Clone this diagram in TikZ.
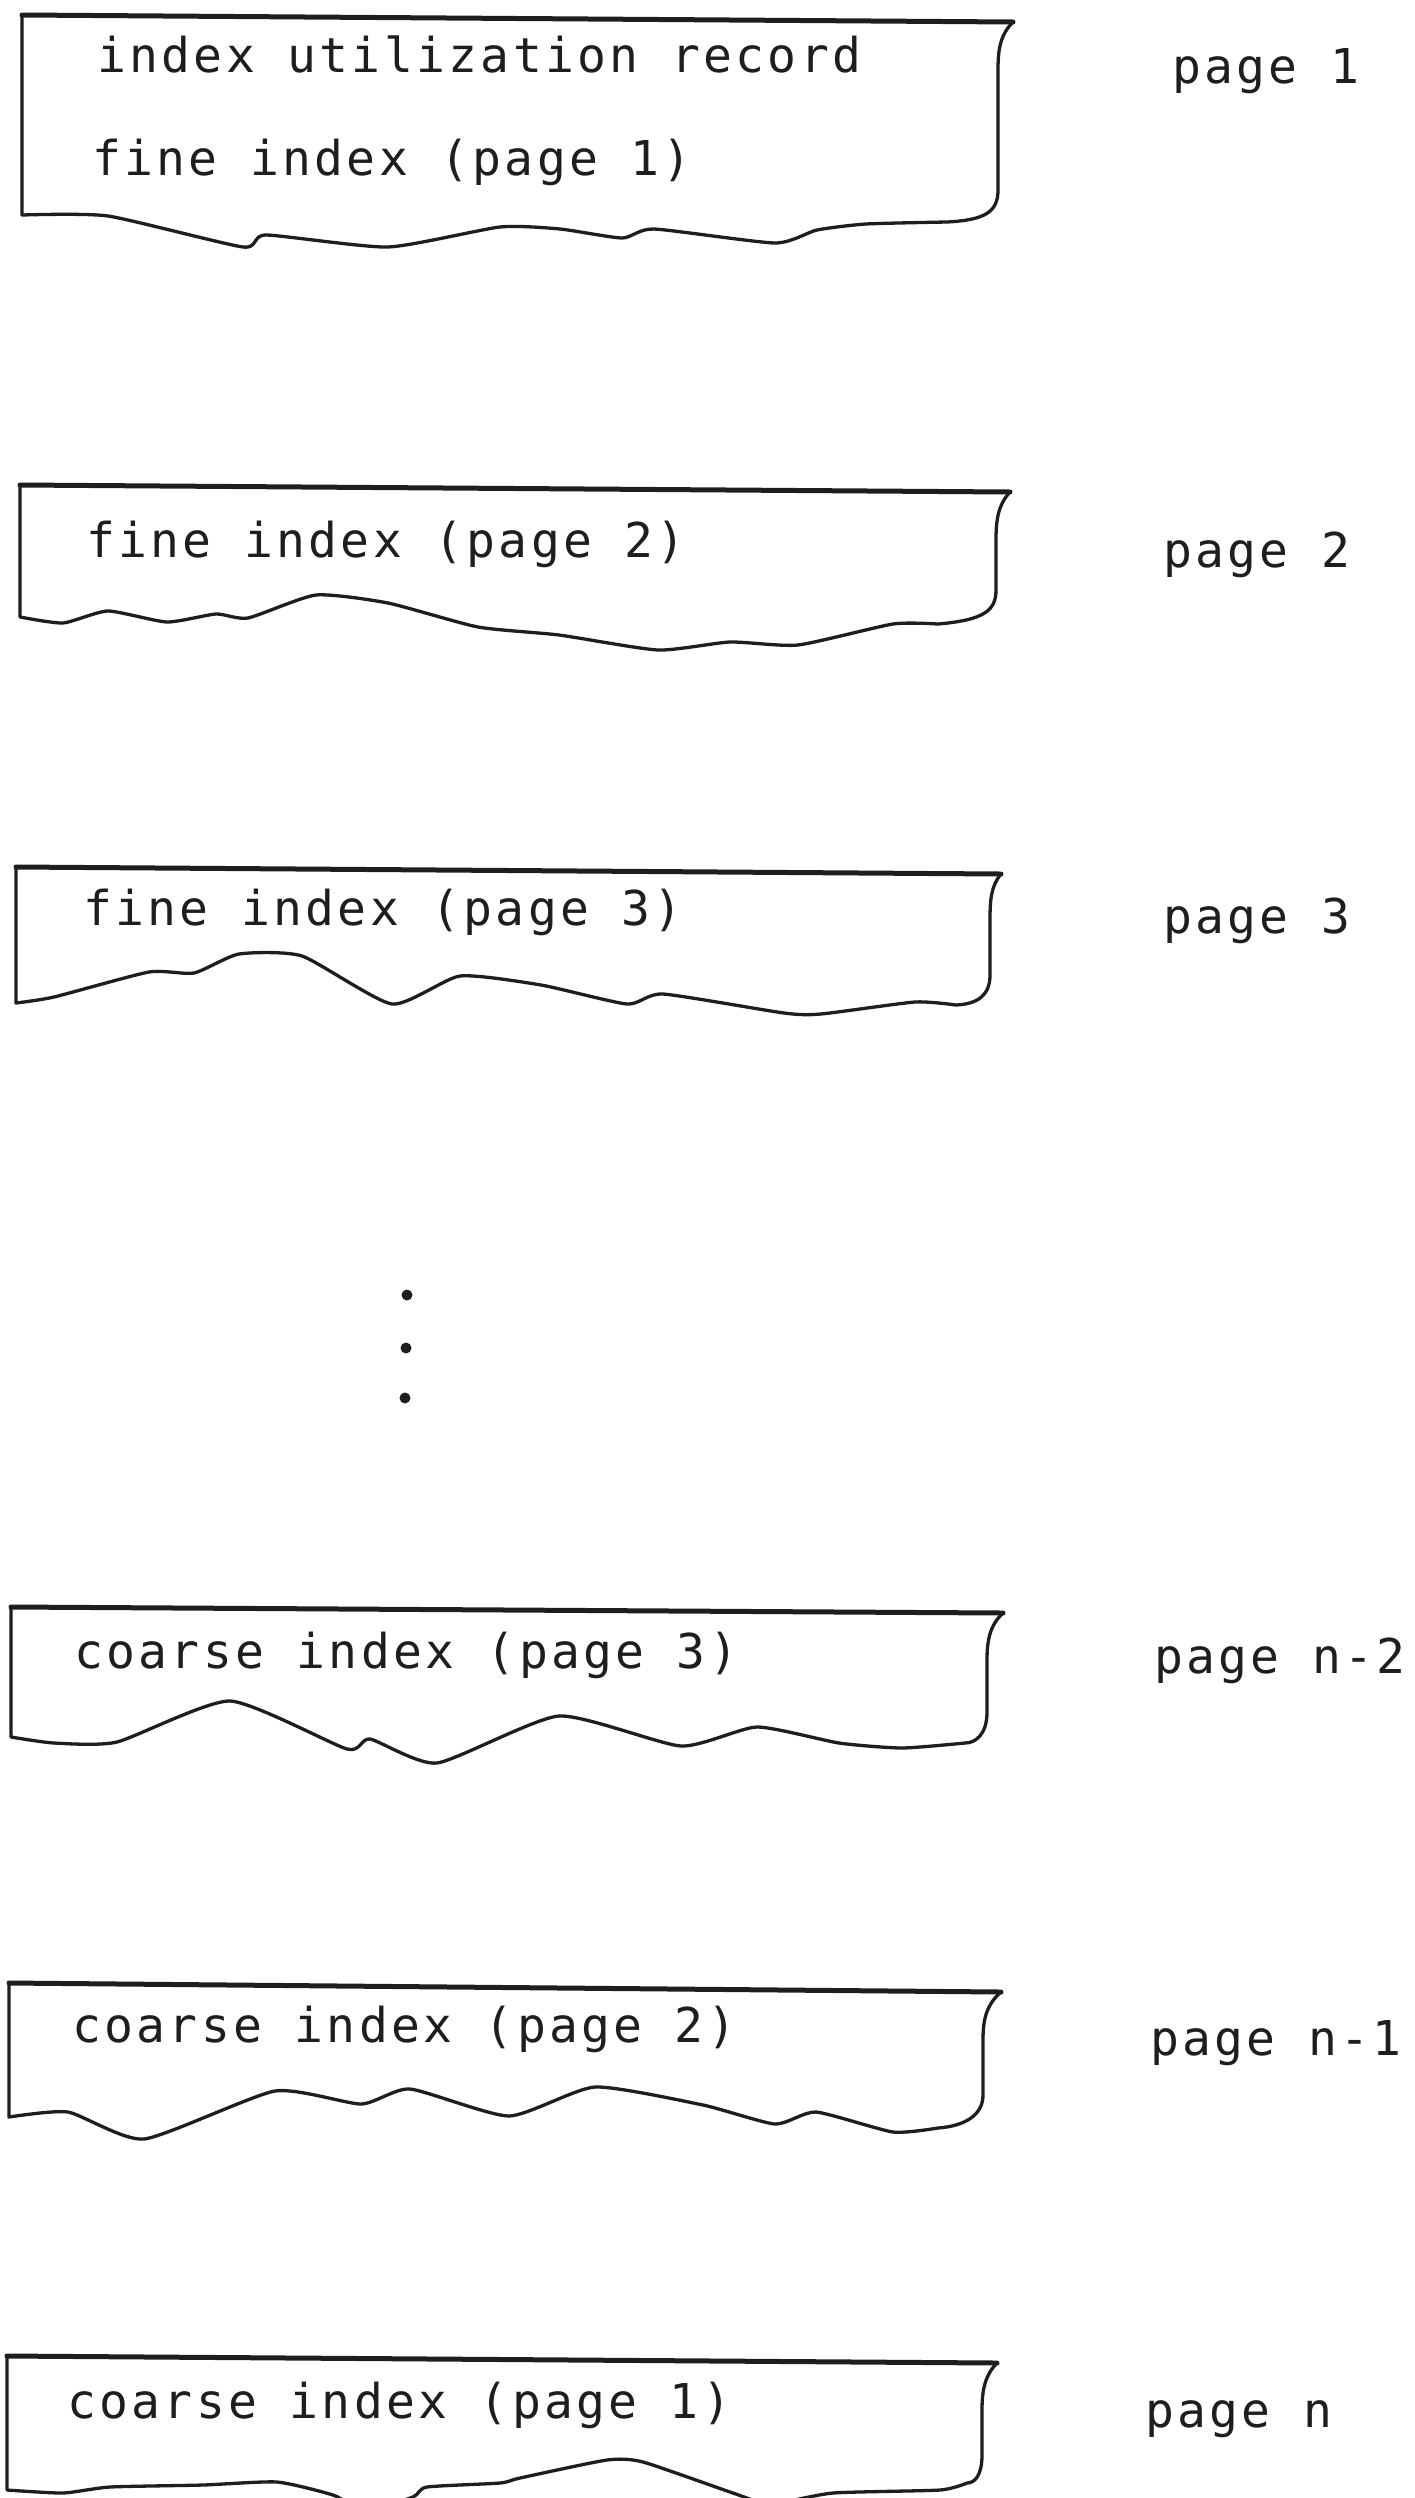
\documentclass[tikz,border=0pt]{standalone}
\usepackage{fontspec}
\newfontfamily\typewriter[LetterSpace=7]{DejaVu Sans Mono}
\definecolor{ink}{HTML}{1E1E1E}
\tikzset{
  pageedge/.style={draw=ink, line width=3.3pt, line join=round, line cap=round},
  topedge/.style={draw=ink, line width=5pt, line cap=round},
  tornedge/.style={smooth, tension=0.35},
  pagetext/.style={anchor=base west, inner sep=0pt, text=ink,
    font=\typewriter\fontsize{48}{50}\selectfont},
  pagedot/.style={fill=ink, draw=none},
}
\begin{document}
\begin{tikzpicture}[x=1pt,y=-1pt]
\useasboundingbox (0,0) rectangle (1414,2498);
\clip (0,0) rectangle (1414,2498);

% page 1
\draw[pageedge] (22,15) -- (1013,22) .. controls (1000,35) and (998,50) .. (998,70)
  -- (998,190) .. controls (998,212) and (985,220) .. (947,222)
  -- plot[tornedge] coordinates {(947,222) (866,224) (817,230) (775,243) (654,229)
     (622,238) (560,229) (500,227) (388,247) (266,235) (243,247) (108,216) (22,215)}
  -- cycle;
\draw[topedge] (22,15) -- (1013,22);
\node[pagetext] (rec1) at (97,72) {index utilization record};
\node[pagetext] (txt1) at (92,175) {fine index (page 1)};
\node[pagetext] (lab1) at (1172,83) {page 1};

% page 2
\draw[pageedge] (20,485) -- (1010,492) .. controls (998,505) and (996,520) .. (996,540)
  -- (996,590) .. controls (996,610) and (985,620) .. (938,624)
  -- plot[tornedge] coordinates {(938,624) (893,624) (798,645) (730,642) (658,650)
     (559,635) (478,627) (388,603) (316,595) (248,618) (216,614) (167,622)
     (108,611) (63,623) (20,617)}
  -- cycle;
\draw[topedge] (20,485) -- (1010,492);
\node[pagetext] (txt2) at (86,557) {fine index (page 2)};
\node[pagetext] (lab2) at (1163,567) {page 2};

% page 3
\draw[pageedge] (16,867) -- (1001,874) .. controls (991,886) and (990,900) .. (990,920)
  -- (990,975) .. controls (990,995) and (978,1004) .. (956,1005)
  -- plot[tornedge] coordinates {(956,1005) (915,1002) (821,1014) (784,1013) (663,994)
     (627,1004) (541,985) (460,976) (392,1004) (302,956) (239,954) (194,973)
     (149,972) (54,997) (16,1003)}
  -- cycle;
\draw[topedge] (16,867) -- (1001,874);
\node[pagetext] (txt3) at (83,925) {fine index (page 3)};
\node[pagetext] (lab3) at (1163,933) {page 3};

% elided pages
\fill[pagedot] (407,1295) circle (5.5);
\fill[pagedot] (406,1348) circle (5.5);
\fill[pagedot] (405,1398) circle (5.5);

% page n-2
\draw[pageedge] (11,1607) -- (1003,1613) .. controls (990,1625) and (987,1640) .. (987,1660)
  -- (987,1712) .. controls (987,1735) and (975,1743) .. (965,1743)
  -- plot[tornedge] coordinates {(965,1743) (902,1748) (839,1743) (757,1727) (681,1746)
     (559,1716) (437,1763) (370,1739) (347,1749) (230,1701) (117,1742)
     (54,1743) (11,1737)}
  -- cycle;
\draw[topedge] (11,1607) -- (1003,1613);
\node[pagetext] (txt4) at (74,1668) {coarse index (page 3)};
\node[pagetext] (lab4) at (1154,1673) {page n-2};

% page n-1
\draw[pageedge] (9,1983) -- (1001,1992) .. controls (986,2005) and (983,2020) .. (983,2040)
  -- (983,2095) .. controls (983,2115) and (965,2126) .. (938,2128)
  -- plot[tornedge] coordinates {(938,2128) (893,2132) (816,2112) (775,2124) (703,2105)
     (595,2087) (509,2116) (410,2089) (361,2104) (275,2091) (144,2139)
     (68,2112) (9,2117)}
  -- cycle;
\draw[topedge] (9,1983) -- (1001,1992);
\node[pagetext] (txt5) at (72,2042) {coarse index (page 2)};
\node[pagetext] (lab5) at (1150,2055) {page n-1};

% page n
\draw[pageedge] (7,2356) -- (997,2363) .. controls (985,2375) and (982,2390) .. (982,2410)
  -- (982,2455) .. controls (982,2475) and (975,2483) .. (967,2483)
  -- plot[tornedge] coordinates {(967,2483) (940,2490) (833,2493) (770,2504) (733,2493)
     (643,2462) (607,2460) (520,2478) (500,2483) (427,2487) (413,2497)
     (365,2510) (333,2495) (277,2482) (203,2485) (110,2487) (63,2493) (7,2490)}
  -- cycle;
\draw[topedge] (7,2356) -- (997,2363);
\node[pagetext] (txt6) at (67,2418) {coarse index (page 1)};
\node[pagetext] (lab6) at (1145,2427) {page n};
\end{tikzpicture}
\end{document}
